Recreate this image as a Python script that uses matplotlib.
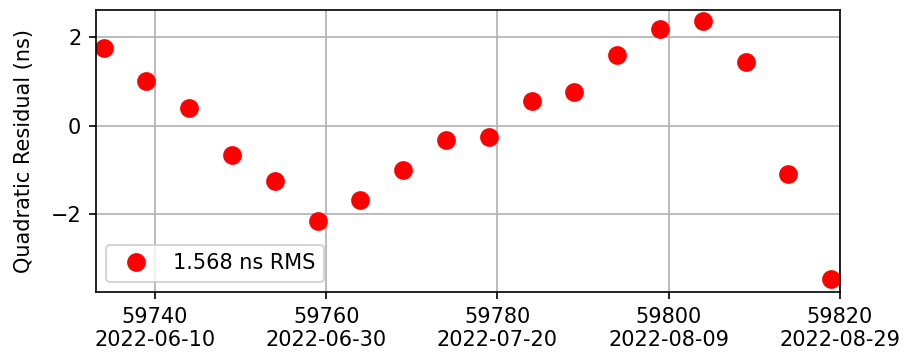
import matplotlib
matplotlib.use("Agg")
import matplotlib.pyplot as plt
from datetime import date, timedelta

# MJD of each observation and the quadratic-fit residual (ns)
mjd = [59734, 59739, 59744, 59749, 59754, 59759, 59764, 59769, 59774,
       59779, 59784, 59789, 59794, 59799, 59804, 59809, 59814, 59819]
resid = [1.75, 1.02, 0.39, -0.68, -1.27, -2.16, -1.68, -1.00, -0.34,
         -0.27, 0.55, 0.77, 1.59, 2.18, 2.36, 1.43, -1.11, -3.48]
rms_label = "1.568 ns RMS"

tick_mjd = [59740, 59760, 59780, 59800, 59820]


def mjd_label(m):
    d = date(1858, 11, 17) + timedelta(days=m)
    return f"{m}\n{d.isoformat()}"


fig, ax = plt.subplots(figsize=(905 / 150, 358 / 150), dpi=150)
ax.plot(mjd, resid, "o", color="red", markersize=8, label=rms_label)
ax.set_xlim(59733.1, 59820)
ax.set_ylim(-3.78, 2.62)
ax.set_xticks(tick_mjd)
ax.set_xticklabels([mjd_label(m) for m in tick_mjd])
ax.set_yticks([-2, 0, 2])
ax.set_ylabel("Quadratic Residual (ns)", labelpad=8)
ax.grid(True)
ax.legend(loc="lower left")

fig.subplots_adjust(left=0.106, right=0.928, top=0.972, bottom=0.184)
fig.savefig("out.png", dpi=150)
